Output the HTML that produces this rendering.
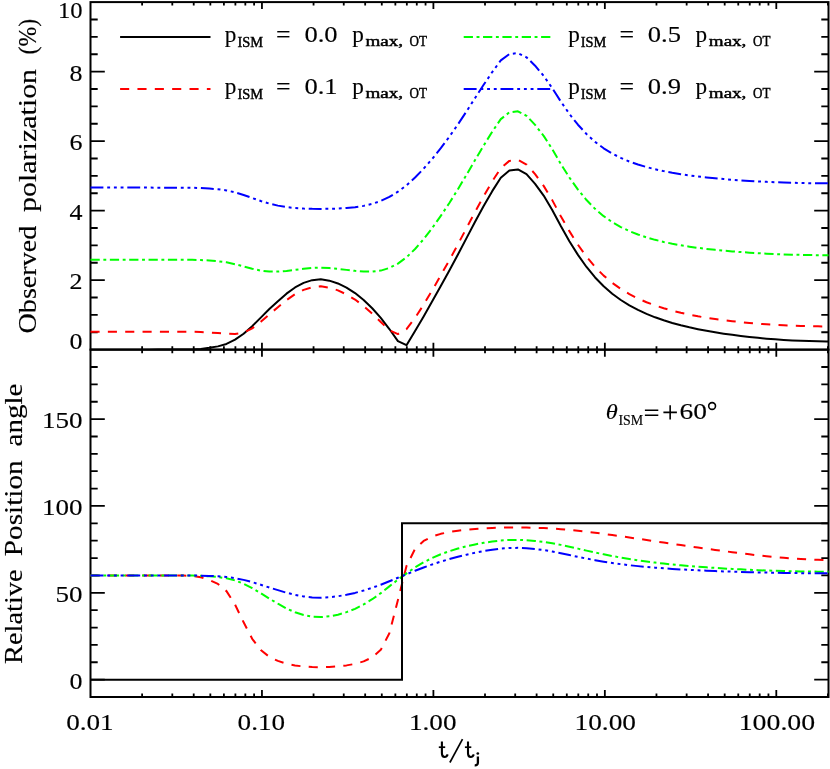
<!DOCTYPE html>
<html><head><meta charset="utf-8"><title>plot</title>
<style>
html,body{margin:0;padding:0;background:#fff;}
body{width:830px;height:769px;overflow:hidden;font-family:"Liberation Serif",serif;}
svg{display:block;}
</style></head>
<body>
<svg width="830" height="769" viewBox="0 0 830 769">
<defs>
<clipPath id="cu"><rect x="89.5" y="2.1" width="740.0" height="347.54999999999995"/></clipPath>
<clipPath id="cl"><rect x="89.5" y="349.65" width="740.0" height="347.35"/></clipPath>
</defs>
<rect x="0" y="0" width="830" height="769" fill="#fff"/>
<rect x="90.5" y="2.1" width="738.0" height="347.54999999999995" fill="none" stroke="#000" stroke-width="2.0"/>
<rect x="90.5" y="349.65" width="738.0" height="347.35" fill="none" stroke="#000" stroke-width="2.0"/>
<path d="M142.11,2.1 v3.5 M142.11,346.15 v7.0 M142.11,697.0 v-3.5 M172.30,2.1 v3.5 M172.30,346.15 v7.0 M172.30,697.0 v-3.5 M193.72,2.1 v3.5 M193.72,346.15 v7.0 M193.72,697.0 v-3.5 M210.34,2.1 v3.5 M210.34,346.15 v7.0 M210.34,697.0 v-3.5 M223.91,2.1 v3.5 M223.91,346.15 v7.0 M223.91,697.0 v-3.5 M235.39,2.1 v3.5 M235.39,346.15 v7.0 M235.39,697.0 v-3.5 M245.33,2.1 v3.5 M245.33,346.15 v7.0 M245.33,697.0 v-3.5 M254.10,2.1 v3.5 M254.10,346.15 v7.0 M254.10,697.0 v-3.5 M261.95,2.1 v7.0 M261.95,342.65 v14.0 M261.95,697.0 v-7.0 M313.56,2.1 v3.5 M313.56,346.15 v7.0 M313.56,697.0 v-3.5 M343.75,2.1 v3.5 M343.75,346.15 v7.0 M343.75,697.0 v-3.5 M365.17,2.1 v3.5 M365.17,346.15 v7.0 M365.17,697.0 v-3.5 M381.79,2.1 v3.5 M381.79,346.15 v7.0 M381.79,697.0 v-3.5 M395.36,2.1 v3.5 M395.36,346.15 v7.0 M395.36,697.0 v-3.5 M406.84,2.1 v3.5 M406.84,346.15 v7.0 M406.84,697.0 v-3.5 M416.78,2.1 v3.5 M416.78,346.15 v7.0 M416.78,697.0 v-3.5 M425.55,2.1 v3.5 M425.55,346.15 v7.0 M425.55,697.0 v-3.5 M433.40,2.1 v7.0 M433.40,342.65 v14.0 M433.40,697.0 v-7.0 M485.01,2.1 v3.5 M485.01,346.15 v7.0 M485.01,697.0 v-3.5 M515.20,2.1 v3.5 M515.20,346.15 v7.0 M515.20,697.0 v-3.5 M536.62,2.1 v3.5 M536.62,346.15 v7.0 M536.62,697.0 v-3.5 M553.24,2.1 v3.5 M553.24,346.15 v7.0 M553.24,697.0 v-3.5 M566.81,2.1 v3.5 M566.81,346.15 v7.0 M566.81,697.0 v-3.5 M578.29,2.1 v3.5 M578.29,346.15 v7.0 M578.29,697.0 v-3.5 M588.23,2.1 v3.5 M588.23,346.15 v7.0 M588.23,697.0 v-3.5 M597.00,2.1 v3.5 M597.00,346.15 v7.0 M597.00,697.0 v-3.5 M604.85,2.1 v7.0 M604.85,342.65 v14.0 M604.85,697.0 v-7.0 M656.46,2.1 v3.5 M656.46,346.15 v7.0 M656.46,697.0 v-3.5 M686.65,2.1 v3.5 M686.65,346.15 v7.0 M686.65,697.0 v-3.5 M708.07,2.1 v3.5 M708.07,346.15 v7.0 M708.07,697.0 v-3.5 M724.69,2.1 v3.5 M724.69,346.15 v7.0 M724.69,697.0 v-3.5 M738.26,2.1 v3.5 M738.26,346.15 v7.0 M738.26,697.0 v-3.5 M749.74,2.1 v3.5 M749.74,346.15 v7.0 M749.74,697.0 v-3.5 M759.68,2.1 v3.5 M759.68,346.15 v7.0 M759.68,697.0 v-3.5 M768.45,2.1 v3.5 M768.45,346.15 v7.0 M768.45,697.0 v-3.5 M776.30,2.1 v7.0 M776.30,342.65 v14.0 M776.30,697.0 v-7.0 M827.91,2.1 v3.5 M827.91,346.15 v7.0 M827.91,697.0 v-3.5 M90.5,332.27 h7.2 M828.5,332.27 h-7.2 M90.5,314.89 h7.2 M828.5,314.89 h-7.2 M90.5,297.52 h7.2 M828.5,297.52 h-7.2 M90.5,280.14 h14.3 M828.5,280.14 h-14.3 M90.5,262.76 h7.2 M828.5,262.76 h-7.2 M90.5,245.38 h7.2 M828.5,245.38 h-7.2 M90.5,228.01 h7.2 M828.5,228.01 h-7.2 M90.5,210.63 h14.3 M828.5,210.63 h-14.3 M90.5,193.25 h7.2 M828.5,193.25 h-7.2 M90.5,175.88 h7.2 M828.5,175.88 h-7.2 M90.5,158.50 h7.2 M828.5,158.50 h-7.2 M90.5,141.12 h14.3 M828.5,141.12 h-14.3 M90.5,123.74 h7.2 M828.5,123.74 h-7.2 M90.5,106.37 h7.2 M828.5,106.37 h-7.2 M90.5,88.99 h7.2 M828.5,88.99 h-7.2 M90.5,71.61 h14.3 M828.5,71.61 h-14.3 M90.5,54.23 h7.2 M828.5,54.23 h-7.2 M90.5,36.86 h7.2 M828.5,36.86 h-7.2 M90.5,19.48 h7.2 M828.5,19.48 h-7.2 M90.5,679.63 h14.3 M828.5,679.63 h-14.3 M90.5,662.27 h7.2 M828.5,662.27 h-7.2 M90.5,644.90 h7.2 M828.5,644.90 h-7.2 M90.5,627.53 h7.2 M828.5,627.53 h-7.2 M90.5,610.16 h7.2 M828.5,610.16 h-7.2 M90.5,592.80 h14.3 M828.5,592.80 h-14.3 M90.5,575.43 h7.2 M828.5,575.43 h-7.2 M90.5,558.06 h7.2 M828.5,558.06 h-7.2 M90.5,540.69 h7.2 M828.5,540.69 h-7.2 M90.5,523.33 h7.2 M828.5,523.33 h-7.2 M90.5,505.96 h14.3 M828.5,505.96 h-14.3 M90.5,488.59 h7.2 M828.5,488.59 h-7.2 M90.5,471.22 h7.2 M828.5,471.22 h-7.2 M90.5,453.86 h7.2 M828.5,453.86 h-7.2 M90.5,436.49 h7.2 M828.5,436.49 h-7.2 M90.5,419.12 h14.3 M828.5,419.12 h-14.3 M90.5,401.75 h7.2 M828.5,401.75 h-7.2 M90.5,384.39 h7.2 M828.5,384.39 h-7.2 M90.5,367.02 h7.2 M828.5,367.02 h-7.2" stroke="#000" stroke-width="1.8" fill="none"/>
<path d="M90.50,349.65 L97.89,349.65 L106.46,349.65 L115.04,349.65 L123.61,349.65 L132.18,349.65 L140.75,349.65 L149.32,349.65 L157.90,349.60 L166.47,349.60 L175.04,349.60 L183.62,349.58 L192.19,349.44 L200.76,348.88 L209.33,347.86 L217.91,346.37 L226.48,343.94 L235.05,339.66 L243.62,333.70 L252.19,326.13 L260.77,317.64 L269.34,309.03 L277.91,301.18 L286.49,293.66 L295.06,287.45 L303.63,282.92 L312.20,280.16 L320.77,279.30 L329.35,280.64 L337.92,283.44 L346.49,287.67 L355.06,293.06 L363.64,300.01 L372.21,308.22 L380.78,317.80 L389.36,329.04 L397.93,341.12 L406.50,345.20 L415.07,330.97 L423.64,316.42 L432.22,301.34 L440.79,285.91 L449.36,270.49 L457.94,254.46 L466.51,238.11 L475.08,221.76 L483.65,206.06 L492.23,191.14 L500.80,177.74 L509.37,170.51 L517.94,169.40 L526.51,174.18 L535.09,183.80 L543.66,195.61 L552.23,209.92 L560.81,226.08 L569.38,241.18 L577.95,254.88 L586.52,266.98 L595.10,277.44 L603.67,286.29 L612.24,293.72 L620.81,300.01 L629.38,305.35 L637.96,309.93 L646.53,313.88 L655.10,317.31 L663.67,320.31 L672.25,322.95 L680.82,325.28 L689.39,327.34 L697.96,329.18 L706.54,330.83 L715.11,332.31 L723.68,333.64 L732.25,334.86 L740.83,335.96 L749.40,336.96 L757.97,337.85 L766.55,338.64 L775.12,339.32 L783.69,339.91 L792.26,340.40 L800.84,340.80 L809.41,341.10 L817.98,341.33 L826.55,341.45 L828.50,341.46" fill="none" stroke="#000" stroke-width="2.0" stroke-linejoin="round" clip-path="url(#cu)"/>
<path d="M90.50,331.65 L97.89,331.65 L106.46,331.65 L115.04,331.65 L123.61,331.65 L132.18,331.65 L140.75,331.65 L149.32,331.65 L157.90,331.67 L166.47,331.67 L175.04,331.67 L183.62,331.68 L192.19,331.75 L200.76,332.02 L209.33,332.47 L217.91,333.04 L226.48,333.71 L235.05,334.03 L243.62,332.58 L252.19,328.35 L260.77,321.86 L269.34,314.39 L277.91,307.21 L286.49,300.15 L295.06,294.21 L303.63,289.86 L312.20,287.18 L320.77,286.35 L329.35,287.65 L337.92,290.36 L346.49,294.42 L355.06,299.57 L363.64,306.12 L372.21,313.66 L380.78,321.99 L389.36,330.21 L397.93,334.05 L406.50,329.06 L415.07,317.88 L423.64,304.63 L432.22,290.26 L440.79,275.25 L449.36,260.12 L457.94,244.30 L466.51,228.10 L475.08,211.87 L483.65,196.26 L492.23,181.41 L500.80,168.07 L509.37,160.87 L517.94,159.76 L526.51,164.52 L535.09,174.10 L543.66,185.86 L552.23,200.10 L560.81,216.16 L569.38,231.15 L577.95,244.71 L586.52,256.66 L595.10,266.95 L603.67,275.63 L612.24,282.88 L620.81,288.97 L629.38,294.11 L637.96,298.50 L646.53,302.24 L655.10,305.47 L663.67,308.26 L672.25,310.69 L680.82,312.81 L689.39,314.67 L697.96,316.31 L706.54,317.75 L715.11,319.04 L723.68,320.18 L732.25,321.20 L740.83,322.12 L749.40,322.94 L757.97,323.65 L766.55,324.28 L775.12,324.81 L783.69,325.27 L792.26,325.64 L800.84,325.95 L809.41,326.18 L817.98,326.34 L826.55,326.44 L828.50,326.44" fill="none" stroke="#ff0000" stroke-width="2.0" stroke-linejoin="round" stroke-dasharray="9.1 8.25" clip-path="url(#cu)"/>
<path d="M90.50,259.63 L97.89,259.63 L106.46,259.63 L115.04,259.63 L123.61,259.63 L132.18,259.63 L140.75,259.63 L149.32,259.63 L157.90,259.66 L166.47,259.66 L175.04,259.66 L183.62,259.67 L192.19,259.74 L200.76,260.02 L209.33,260.51 L217.91,261.23 L226.48,262.35 L235.05,264.19 L243.62,266.45 L252.19,268.79 L260.77,270.62 L269.34,271.57 L277.91,271.62 L286.49,270.93 L295.06,269.82 L303.63,268.73 L312.20,267.94 L320.77,267.68 L329.35,268.08 L337.92,268.86 L346.49,269.87 L355.06,270.84 L363.64,271.56 L372.21,271.61 L380.78,270.59 L389.36,267.97 L397.93,263.58 L406.50,257.33 L415.07,248.99 L423.64,239.20 L432.22,228.06 L440.79,215.84 L449.36,203.04 L457.94,189.24 L466.51,174.76 L475.08,159.99 L483.65,145.58 L492.23,131.71 L500.80,119.15 L509.37,112.33 L517.94,111.28 L526.51,115.80 L535.09,124.84 L543.66,135.88 L552.23,149.13 L560.81,163.92 L569.38,177.51 L577.95,189.60 L586.52,200.06 L595.10,208.88 L603.67,216.16 L612.24,222.12 L620.81,227.03 L629.38,231.10 L637.96,234.52 L646.53,237.39 L655.10,239.84 L663.67,241.93 L672.25,243.73 L680.82,245.29 L689.39,246.65 L697.96,247.85 L706.54,248.90 L715.11,249.83 L723.68,250.66 L732.25,251.40 L740.83,252.07 L749.40,252.67 L757.97,253.19 L766.55,253.65 L775.12,254.05 L783.69,254.39 L792.26,254.67 L800.84,254.90 L809.41,255.07 L817.98,255.20 L826.55,255.27 L828.50,255.27" fill="none" stroke="#00ff00" stroke-width="2.0" stroke-linejoin="round" stroke-dasharray="9.25 3.6 2.9 3.6" clip-path="url(#cu)"/>
<path d="M90.50,187.62 L97.89,187.62 L106.46,187.62 L115.04,187.62 L123.61,187.62 L132.18,187.62 L140.75,187.62 L149.32,187.62 L157.90,187.65 L166.47,187.65 L175.04,187.65 L183.62,187.66 L192.19,187.73 L200.76,188.00 L209.33,188.51 L217.91,189.24 L226.48,190.40 L235.05,192.38 L243.62,194.98 L252.19,198.01 L260.77,201.02 L269.34,203.63 L277.91,205.61 L286.49,207.12 L295.06,208.07 L303.63,208.60 L312.20,208.86 L320.77,208.93 L329.35,208.82 L337.92,208.55 L346.49,208.04 L355.06,207.22 L363.64,205.87 L372.21,203.85 L380.78,200.97 L389.36,196.88 L397.93,191.71 L406.50,185.35 L415.07,177.52 L423.64,168.70 L432.22,158.83 L440.79,148.04 L449.36,136.70 L457.94,124.40 L466.51,111.39 L475.08,97.99 L483.65,84.82 L492.23,72.05 L500.80,60.41 L509.37,54.07 L517.94,53.09 L526.51,57.29 L535.09,65.69 L543.66,75.89 L552.23,88.08 L560.81,101.57 L569.38,113.87 L577.95,124.73 L586.52,134.05 L595.10,141.88 L603.67,148.32 L612.24,153.58 L620.81,157.92 L629.38,161.52 L637.96,164.54 L646.53,167.09 L655.10,169.27 L663.67,171.14 L672.25,172.75 L680.82,174.16 L689.39,175.39 L697.96,176.48 L706.54,177.44 L715.11,178.29 L723.68,179.05 L732.25,179.74 L740.83,180.36 L749.40,180.92 L757.97,181.41 L766.55,181.84 L775.12,182.22 L783.69,182.54 L792.26,182.80 L800.84,183.02 L809.41,183.18 L817.98,183.30 L826.55,183.37 L828.50,183.37" fill="none" stroke="#0000ff" stroke-width="2.0" stroke-linejoin="round" stroke-dasharray="12.9 3.8 2.9 3.8 2.9 3.8 2.9 3.8" clip-path="url(#cu)"/>
<path d="M90.50,575.43 L97.89,575.43 L106.46,575.43 L115.04,575.43 L123.61,575.43 L132.18,575.43 L140.75,575.43 L149.32,575.43 L157.90,575.55 L166.47,575.55 L175.04,575.55 L183.62,575.60 L192.19,575.94 L200.76,577.30 L209.33,579.92 L217.91,583.97 L226.48,591.12 L235.05,604.64 L243.62,622.33 L252.19,638.78 L260.77,650.00 L269.34,656.84 L277.91,660.92 L286.49,663.69 L295.06,665.45 L303.63,666.51 L312.20,667.08 L320.77,667.25 L329.35,666.98 L337.92,666.39 L346.49,665.39 L355.06,663.88 L363.64,661.41 L372.21,657.34 L380.78,649.84 L389.36,633.32 L397.93,599.96 L406.50,566.06 L415.07,548.85 L423.64,540.92 L432.22,536.54 L440.79,533.83 L449.36,532.03 L457.94,530.72 L466.51,529.72 L475.08,528.97 L483.65,528.39 L492.23,527.94 L500.80,527.60 L509.37,527.44 L517.94,527.41 L526.51,527.52 L535.09,527.75 L543.66,528.07 L552.23,528.52 L560.81,529.15 L569.38,529.89 L577.95,530.74 L586.52,531.71 L595.10,532.76 L603.67,533.88 L612.24,535.05 L620.81,536.25 L629.38,537.48 L637.96,538.74 L646.53,540.00 L655.10,541.27 L663.67,542.54 L672.25,543.81 L680.82,545.07 L689.39,546.31 L697.96,547.54 L706.54,548.74 L715.11,549.92 L723.68,551.06 L732.25,552.19 L740.83,553.28 L749.40,554.33 L757.97,555.33 L766.55,556.25 L775.12,557.09 L783.69,557.85 L792.26,558.50 L800.84,559.04 L809.41,559.47 L817.98,559.78 L826.55,559.97 L828.50,559.97" fill="none" stroke="#ff0000" stroke-width="2.0" stroke-linejoin="round" stroke-dasharray="9.1 8.25" clip-path="url(#cl)"/>
<path d="M90.50,575.43 L97.89,575.43 L106.46,575.43 L115.04,575.43 L123.61,575.43 L132.18,575.43 L140.75,575.43 L149.32,575.43 L157.90,575.45 L166.47,575.45 L175.04,575.45 L183.62,575.46 L192.19,575.53 L200.76,575.80 L209.33,576.29 L217.91,577.02 L226.48,578.25 L235.05,580.47 L243.62,583.72 L252.19,588.10 L260.77,593.26 L269.34,598.68 L277.91,603.69 L286.49,608.44 L295.06,612.28 L303.63,615.00 L312.20,616.62 L320.77,617.12 L329.35,616.34 L337.92,614.69 L346.49,612.14 L355.06,608.82 L363.64,604.43 L372.21,599.20 L380.78,593.16 L389.36,586.39 L397.93,579.70 L406.50,573.35 L415.07,567.40 L423.64,562.31 L432.22,557.95 L440.79,554.27 L449.36,551.22 L457.94,548.57 L466.51,546.31 L475.08,544.40 L483.65,542.83 L492.23,541.52 L500.80,540.49 L509.37,539.98 L517.94,539.90 L526.51,540.23 L535.09,540.94 L543.66,541.90 L552.23,543.19 L560.81,544.88 L569.38,546.71 L577.95,548.64 L586.52,550.60 L595.10,552.52 L603.67,554.35 L612.24,556.05 L620.81,557.61 L629.38,559.03 L637.96,560.33 L646.53,561.52 L655.10,562.60 L663.67,563.58 L672.25,564.48 L680.82,565.29 L689.39,566.04 L697.96,566.72 L706.54,567.34 L715.11,567.91 L723.68,568.44 L732.25,568.92 L740.83,569.37 L749.40,569.78 L757.97,570.15 L766.55,570.48 L775.12,570.76 L783.69,571.01 L792.26,571.23 L800.84,571.40 L809.41,571.53 L817.98,571.63 L826.55,571.68 L828.50,571.68" fill="none" stroke="#00ff00" stroke-width="2.0" stroke-linejoin="round" stroke-dasharray="9.25 3.6 2.9 3.6" clip-path="url(#cl)"/>
<path d="M90.50,575.43 L97.89,575.43 L106.46,575.43 L115.04,575.43 L123.61,575.43 L132.18,575.43 L140.75,575.43 L149.32,575.43 L157.90,575.44 L166.47,575.44 L175.04,575.44 L183.62,575.45 L192.19,575.48 L200.76,575.63 L209.33,575.91 L217.91,576.31 L226.48,576.97 L235.05,578.17 L243.62,579.88 L252.19,582.13 L260.77,584.76 L269.34,587.53 L277.91,590.14 L286.49,592.70 L295.06,594.85 L303.63,596.43 L312.20,597.40 L320.77,597.70 L329.35,597.23 L337.92,596.25 L346.49,594.77 L355.06,592.91 L363.64,590.54 L372.21,587.80 L380.78,584.71 L389.36,581.25 L397.93,577.75 L406.50,574.26 L415.07,570.75 L423.64,567.48 L432.22,564.43 L440.79,561.63 L449.36,559.12 L457.94,556.79 L466.51,554.66 L475.08,552.75 L483.65,551.11 L492.23,549.69 L500.80,548.53 L509.37,547.94 L517.94,547.85 L526.51,548.23 L535.09,549.04 L543.66,550.10 L552.23,551.50 L560.81,553.24 L569.38,555.04 L577.95,556.84 L586.52,558.59 L595.10,560.22 L603.67,561.69 L612.24,563.01 L620.81,564.18 L629.38,565.21 L637.96,566.13 L646.53,566.94 L655.10,567.67 L663.67,568.32 L672.25,568.91 L680.82,569.43 L689.39,569.90 L697.96,570.33 L706.54,570.71 L715.11,571.06 L723.68,571.38 L732.25,571.67 L740.83,571.94 L749.40,572.18 L757.97,572.40 L766.55,572.60 L775.12,572.77 L783.69,572.91 L792.26,573.04 L800.84,573.14 L809.41,573.21 L817.98,573.27 L826.55,573.30 L828.50,573.30" fill="none" stroke="#0000ff" stroke-width="2.0" stroke-linejoin="round" stroke-dasharray="12.9 3.8 2.9 3.8 2.9 3.8 2.9 3.8" clip-path="url(#cl)"/>
<path d="M90.5,679.63 L402.0,679.63 L402.0,523.33 L828.5,523.33" fill="none" stroke="#000" stroke-width="2.0" stroke-linejoin="miter" clip-path="url(#cl)"/>
<path d="M120.10,37.00 L210.50,37.00" stroke="#000" stroke-width="2.0" fill="none"/>
<path d="M120.10,89.00 L210.50,89.00" stroke="#ff0000" stroke-width="2.0" fill="none" stroke-dasharray="9.1 8.25"/>
<path d="M463.70,37.00 L550.90,37.00" stroke="#00ff00" stroke-width="2.0" fill="none" stroke-dasharray="9.25 3.6 2.9 3.6"/>
<path d="M463.70,89.00 L550.90,89.00" stroke="#0000ff" stroke-width="2.0" fill="none" stroke-dasharray="12.9 3.8 2.9 3.8 2.9 3.8 2.9 3.8"/>
<g font-family="Liberation Serif, serif" fill="#000" stroke="#000" stroke-width="0.15" style="will-change:transform">
<text x="57.99999999999999" y="17.6" font-size="23.4" textLength="24.6" lengthAdjust="spacingAndGlyphs" >10</text>
<text x="69.6" y="80.7" font-size="23.4" textLength="13.0" lengthAdjust="spacingAndGlyphs" >8</text>
<text x="69.6" y="150.2" font-size="23.4" textLength="13.0" lengthAdjust="spacingAndGlyphs" >6</text>
<text x="69.6" y="219.7" font-size="23.4" textLength="13.0" lengthAdjust="spacingAndGlyphs" >4</text>
<text x="69.6" y="289.2" font-size="23.4" textLength="13.0" lengthAdjust="spacingAndGlyphs" >2</text>
<text x="69.6" y="349.4" font-size="23.4" textLength="13.0" lengthAdjust="spacingAndGlyphs" >0</text>
<text x="41.99999999999999" y="428.2" font-size="23.4" textLength="40.6" lengthAdjust="spacingAndGlyphs" >150</text>
<text x="41.99999999999999" y="515.1" font-size="23.4" textLength="40.6" lengthAdjust="spacingAndGlyphs" >100</text>
<text x="55.599999999999994" y="601.9" font-size="23.4" textLength="27.0" lengthAdjust="spacingAndGlyphs" >50</text>
<text x="69.6" y="688.7" font-size="23.4" textLength="13.0" lengthAdjust="spacingAndGlyphs" >0</text>
<text x="66.2" y="729.6" font-size="23.4" textLength="47.5" lengthAdjust="spacingAndGlyphs" >0.01</text>
<text x="237.6" y="729.6" font-size="23.4" textLength="47.5" lengthAdjust="spacingAndGlyphs" >0.10</text>
<text x="409.0" y="729.6" font-size="23.4" textLength="47.5" lengthAdjust="spacingAndGlyphs" >1.00</text>
<text x="574.5" y="729.6" font-size="23.4" textLength="61.5" lengthAdjust="spacingAndGlyphs" >10.00</text>
<text x="738.7" y="729.6" font-size="23.4" textLength="76.5" lengthAdjust="spacingAndGlyphs" >100.00</text>
<text transform="translate(36.4,333.5) rotate(-90)" font-size="25" textLength="107.8" lengthAdjust="spacingAndGlyphs">Observed</text>
<text transform="translate(36.4,212.0) rotate(-90)" font-size="25" textLength="143.1" lengthAdjust="spacingAndGlyphs">polarization</text>
<text transform="translate(36.4,54.4) rotate(-90)" font-size="25" textLength="35.6" lengthAdjust="spacingAndGlyphs">(%)</text>
<text transform="translate(21.8,664.0) rotate(-90)" font-size="25" textLength="94.6" lengthAdjust="spacingAndGlyphs">Relative</text>
<text transform="translate(21.8,556.2) rotate(-90)" font-size="25" textLength="95.9" lengthAdjust="spacingAndGlyphs">Position</text>
<text transform="translate(21.8,446.4) rotate(-90)" font-size="25" textLength="62.8" lengthAdjust="spacingAndGlyphs">angle</text>
<path d="M441.9,741.6 V753.2 Q441.9,757.0 444.7,757.0 Q446.7,757.0 447.7,754.4" fill="none" stroke="#000" stroke-width="2.1"/><path d="M438.8,747.2 H445.2" fill="none" stroke="#000" stroke-width="1.7"/>
<path d="M449.9,762.5 L462.5,739.2" fill="none" stroke="#000" stroke-width="1.7"/>
<path d="M468.0,741.6 V753.2 Q468.0,757.0 470.8,757.0 Q472.8,757.0 473.8,754.4" fill="none" stroke="#000" stroke-width="2.1"/><path d="M464.90000000000003,747.2 H471.3" fill="none" stroke="#000" stroke-width="1.7"/>
<circle cx="477.8" cy="753.5" r="1.35" fill="#000" stroke="none"/>
<path d="M477.9,756.6 V762.4 Q477.9,765.5 474.7,765.3" fill="none" stroke="#000" stroke-width="2.3"/>
<text x="224.8" y="42.0" font-size="24" textLength="11.6" lengthAdjust="spacingAndGlyphs" >p</text>
<text x="237.4" y="46.5" font-size="14.4" textLength="25.6" lengthAdjust="spacingAndGlyphs" stroke-width="0.45">ISM</text>
<text x="276.0" y="42.1" font-size="23.4" textLength="14.6" lengthAdjust="spacingAndGlyphs" >=</text>
<text x="304.4" y="42.0" font-size="23.4" textLength="33.2" lengthAdjust="spacingAndGlyphs" >0.0</text>
<text x="352.20000000000005" y="42.0" font-size="24" textLength="11.6" lengthAdjust="spacingAndGlyphs" >p</text>
<text x="365.4" y="46.1" font-size="14.0" textLength="37.6" lengthAdjust="spacingAndGlyphs" stroke-width="0.45">max,</text>
<text x="409.6" y="46.4" font-size="15.0" textLength="17.4" lengthAdjust="spacingAndGlyphs" stroke-width="0.45">OT</text>
<text x="224.8" y="94.0" font-size="24" textLength="11.6" lengthAdjust="spacingAndGlyphs" >p</text>
<text x="237.4" y="98.5" font-size="14.4" textLength="25.6" lengthAdjust="spacingAndGlyphs" stroke-width="0.45">ISM</text>
<text x="276.0" y="94.1" font-size="23.4" textLength="14.6" lengthAdjust="spacingAndGlyphs" >=</text>
<text x="304.4" y="94.0" font-size="23.4" textLength="33.2" lengthAdjust="spacingAndGlyphs" >0.1</text>
<text x="352.20000000000005" y="94.0" font-size="24" textLength="11.6" lengthAdjust="spacingAndGlyphs" >p</text>
<text x="365.4" y="98.1" font-size="14.0" textLength="37.6" lengthAdjust="spacingAndGlyphs" stroke-width="0.45">max,</text>
<text x="409.6" y="98.4" font-size="15.0" textLength="17.4" lengthAdjust="spacingAndGlyphs" stroke-width="0.45">OT</text>
<text x="568.2" y="42.0" font-size="24" textLength="11.6" lengthAdjust="spacingAndGlyphs" >p</text>
<text x="580.8000000000001" y="46.5" font-size="14.4" textLength="25.6" lengthAdjust="spacingAndGlyphs" stroke-width="0.45">ISM</text>
<text x="619.4000000000001" y="42.1" font-size="23.4" textLength="14.6" lengthAdjust="spacingAndGlyphs" >=</text>
<text x="647.8000000000001" y="42.0" font-size="23.4" textLength="33.2" lengthAdjust="spacingAndGlyphs" >0.5</text>
<text x="695.6" y="42.0" font-size="24" textLength="11.6" lengthAdjust="spacingAndGlyphs" >p</text>
<text x="708.8000000000001" y="46.1" font-size="14.0" textLength="37.6" lengthAdjust="spacingAndGlyphs" stroke-width="0.45">max,</text>
<text x="753.0" y="46.4" font-size="15.0" textLength="17.4" lengthAdjust="spacingAndGlyphs" stroke-width="0.45">OT</text>
<text x="568.2" y="94.0" font-size="24" textLength="11.6" lengthAdjust="spacingAndGlyphs" >p</text>
<text x="580.8000000000001" y="98.5" font-size="14.4" textLength="25.6" lengthAdjust="spacingAndGlyphs" stroke-width="0.45">ISM</text>
<text x="619.4000000000001" y="94.1" font-size="23.4" textLength="14.6" lengthAdjust="spacingAndGlyphs" >=</text>
<text x="647.8000000000001" y="94.0" font-size="23.4" textLength="33.2" lengthAdjust="spacingAndGlyphs" >0.9</text>
<text x="695.6" y="94.0" font-size="24" textLength="11.6" lengthAdjust="spacingAndGlyphs" >p</text>
<text x="708.8000000000001" y="98.1" font-size="14.0" textLength="37.6" lengthAdjust="spacingAndGlyphs" stroke-width="0.45">max,</text>
<text x="753.0" y="98.4" font-size="15.0" textLength="17.4" lengthAdjust="spacingAndGlyphs" stroke-width="0.45">OT</text>
<text x="605.8" y="419.4" font-size="21.5" textLength="12.0" lengthAdjust="spacingAndGlyphs" font-style="italic" >θ</text>
<text x="618.4" y="425.4" font-size="15" textLength="24.8" lengthAdjust="spacingAndGlyphs" >ISM</text>
<path d="M644.9,410.2 H658.3 M644.9,415.3 H658.3 M663.4,412.4 H676.9 M670.15,405.3 V419.5" fill="none" stroke="#000" stroke-width="1.6"/>
<text x="679.6" y="419.4" font-size="23.4" textLength="27.4" lengthAdjust="spacingAndGlyphs" >60</text>
<circle cx="712.1" cy="406.0" r="3.4" fill="none" stroke="#000" stroke-width="1.6"/>
</g>
</svg>
</body></html>
